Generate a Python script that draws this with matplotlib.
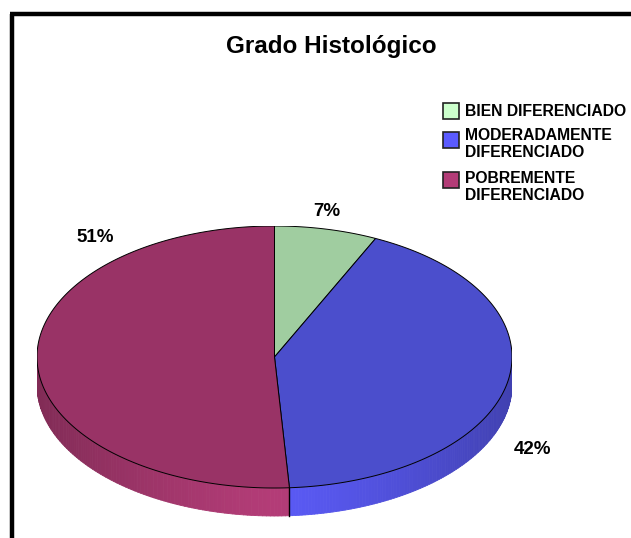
import numpy as np
import matplotlib
matplotlib.use("Agg")
from matplotlib import pyplot as plt
from matplotlib.patches import Polygon, Rectangle
from matplotlib.collections import PolyCollection
from matplotlib.lines import Line2D
from matplotlib.colors import to_rgb

plt.rcParams['font.family'] = ['Liberation Sans', 'DejaVu Sans']

# data
categories = ['BIEN DIFERENCIADO', 'MODERADAMENTE\nDIFERENCIADO', 'POBREMENTE\nDIFERENCIADO']
values = [7, 42, 51]
title = 'Grado Histológico'

# styles
top_colors = ['#A0CDA0', '#4B4ECC', '#993366']
side_colors = ['#CCFFCC', '#5A5AF5', '#B33C77']
legend_colors = ['#CCFFCC', '#5A5AFF', '#B33C77']

W, H = 631, 538
fig = plt.figure(figsize=(W / 100, H / 100), dpi=100)


def fx(px):
    return px / W


def fy(py):
    return 1 - py / H


# pie axes: unit circle maps onto the ellipse, depth below
depth = 28 / 131
ax = fig.add_axes([fx(37), fy(520.75), 475 / W, 294.75 / H])
ax.set_xlim(-1, 1)
ax.set_ylim(-1 - 0.25, 1)
ax.axis('off')

fracs = np.array(values, dtype=float) / sum(values)
edges = 90 - 360 * np.concatenate([[0], np.cumsum(fracs)])

# side walls (front half only)
polys, cols = [], []
for i in range(len(values)):
    ts = np.linspace(np.radians(edges[i]), np.radians(edges[i + 1]), 200)
    base = np.array(to_rgb(side_colors[i]))
    for t1, t2 in zip(ts[:-1], ts[1:]):
        tm = (t1 + t2) / 2
        if np.sin(tm) >= 0:
            continue
        x1, y1 = np.cos(t1), np.sin(t1)
        x2, y2 = np.cos(t2), np.sin(t2)
        polys.append([(x1, y1), (x2, y2), (x2, y2 - depth), (x1, y1 - depth)])
        shade = 1 - 0.28 * abs(np.cos(tm)) ** 1.3
        cols.append(tuple(base * shade))
pc = PolyCollection(polys, facecolors=cols, edgecolors=cols, linewidths=0.6)
ax.add_collection(pc)

# vertical seams on visible wall
for e in edges[1:-1]:
    t = np.radians(e)
    if np.sin(t) < 0:
        ax.add_line(Line2D([np.cos(t), np.cos(t)], [np.sin(t), np.sin(t) - depth],
                           color='black', lw=1.0))

# top faces
for i in range(len(values)):
    ts = np.linspace(np.radians(edges[i]), np.radians(edges[i + 1]), 300)
    pts = [(0, 0)] + list(zip(np.cos(ts), np.sin(ts)))
    ax.add_patch(Polygon(pts, closed=True, facecolor=top_colors[i],
                         edgecolor='black', lw=0.7))

# percentage labels
label_xy = [(327, 211), (532, 450), (95, 238)]
for v, (lx, ly) in zip(values, label_xy):
    fig.text(fx(lx), fy(ly), f'{v}%', ha='center', va='center',
             fontsize=13.5, fontweight='bold')

# title
fig.text(fx(331), fy(47), title, ha='center', va='center',
         fontsize=17.5, fontweight='bold')

# legend
sq_y = [111, 140, 180]
txt_y = [111, 144, 187]
for c, lab, sy, ty in zip(legend_colors, categories, sq_y, txt_y):
    fig.patches.append(Rectangle((fx(443), fy(sy + 8)), 16 / W, 16 / H,
                                 transform=fig.transFigure, facecolor=c,
                                 edgecolor='#222222', lw=1.2))
    fig.text(fx(465), fy(ty), lab, ha='left', va='center', fontsize=11.3,
             fontweight='bold', linespacing=1.15)

# chart frame (cut at right and bottom)
fig.add_artist(Line2D([fx(12), fx(12)], [fy(14), 0], color='black', lw=3.2,
                      transform=fig.transFigure, solid_capstyle='butt'))
fig.add_artist(Line2D([fx(10.4), 1], [fy(14), fy(14)], color='black', lw=3.2,
                      transform=fig.transFigure, solid_capstyle='butt'))

fig.savefig('out.png', dpi=100, facecolor='white')
